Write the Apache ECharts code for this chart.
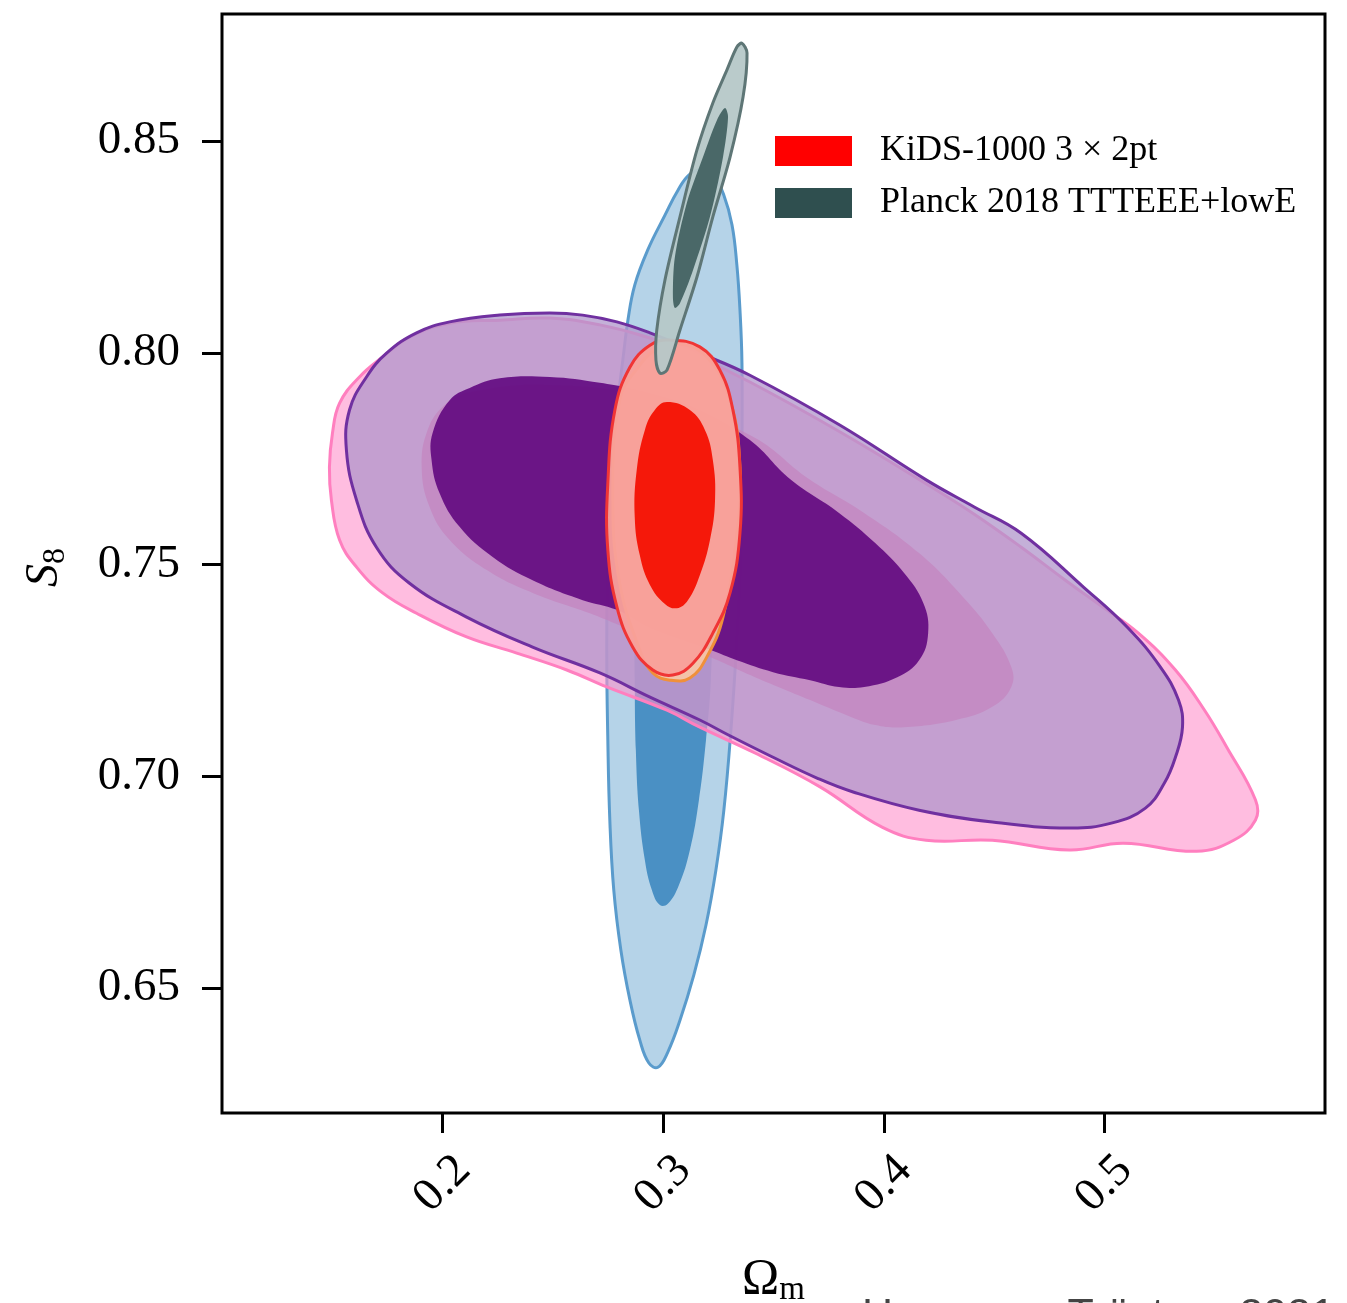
<!DOCTYPE html>
<html>
<head>
<meta charset="utf-8">
<script src="https://cdn.jsdelivr.net/npm/echarts@6/dist/echarts.min.js"></script>
<style>
html,body{margin:0;padding:0;background:#fff;}
#chart{width:1347px;height:1303px;}
</style>
</head>
<body>
<div id="chart"></div>
<script>
// ---- Tick values ----
const xTicks = [0.2, 0.3, 0.4, 0.5];
const yTicks = [0.65, 0.70, 0.75, 0.80, 0.85];

// ---- Contour outlines, [Omega_m, S8] ----
const blueOuter = [[0.3121,0.8422],[0.3180,0.8432],[0.3230,0.8417],[0.3275,0.8372],[0.3312,0.8302],[0.3334,0.8207],[0.3348,0.8101],[0.3357,0.7976],[0.3357,0.7770],[0.3353,0.7534],[0.3334,0.7322],[0.3307,0.7109],[0.3275,0.6920],[0.3239,0.6779],[0.3194,0.6649],[0.3139,0.6531],[0.3076,0.6424],[0.3021,0.6349],[0.2976,0.6313],[0.2935,0.6323],[0.2894,0.6377],[0.2849,0.6472],[0.2808,0.6590],[0.2776,0.6731],[0.2758,0.6897],[0.2749,0.7086],[0.2744,0.7298],[0.2749,0.7534],[0.2767,0.7770],[0.2794,0.7888],[0.2817,0.7983],[0.2840,0.8077],[0.2871,0.8160],[0.2930,0.8243],[0.3008,0.8325],[0.3067,0.8384]];
const blueInner = [[0.3039,0.7907],[0.3144,0.7888],[0.3203,0.7818],[0.3225,0.7652],[0.3225,0.7416],[0.3216,0.7227],[0.3194,0.7086],[0.3162,0.6944],[0.3121,0.6826],[0.3071,0.6743],[0.3021,0.6699],[0.2985,0.6696],[0.2949,0.6731],[0.2917,0.6802],[0.2890,0.6920],[0.2876,0.7062],[0.2871,0.7227],[0.2871,0.7416],[0.2885,0.7652],[0.2917,0.7818],[0.2967,0.7888]];
const pinkOuter = [[0.1533,0.7881],[0.1623,0.7943],[0.1728,0.7990],[0.1850,0.8037],[0.2032,0.8070],[0.2259,0.8077],[0.2486,0.8082],[0.2713,0.8066],[0.2940,0.8035],[0.3166,0.7988],[0.3393,0.7931],[0.3802,0.7813],[0.4210,0.7685],[0.4410,0.7619],[0.4623,0.7541],[0.4823,0.7463],[0.4991,0.7400],[0.5154,0.7338],[0.5322,0.7251],[0.5454,0.7156],[0.5554,0.7069],[0.5685,0.6944],[0.5685,0.6897],[0.5586,0.6849],[0.5418,0.6823],[0.5086,0.6842],[0.4841,0.6826],[0.4492,0.6849],[0.4192,0.6849],[0.3992,0.6880],[0.3711,0.6975],[0.3416,0.7055],[0.3166,0.7116],[0.3017,0.7156],[0.2744,0.7211],[0.2563,0.7251],[0.2336,0.7291],[0.2109,0.7329],[0.1882,0.7385],[0.1728,0.7433],[0.1610,0.7494],[0.1533,0.7558],[0.1496,0.7652],[0.1487,0.7730],[0.1501,0.7811]];
const pinkInner = [[0.2123,0.7907],[0.2486,0.7924],[0.2940,0.7893],[0.3393,0.7806],[0.3666,0.7700],[0.3911,0.7622],[0.4160,0.7527],[0.4360,0.7423],[0.4492,0.7338],[0.4578,0.7258],[0.4578,0.7211],[0.4492,0.7164],[0.4328,0.7133],[0.4092,0.7116],[0.3961,0.7121],[0.3829,0.7145],[0.3666,0.7180],[0.3416,0.7234],[0.3166,0.7291],[0.2894,0.7338],[0.2667,0.7385],[0.2408,0.7433],[0.2200,0.7487],[0.2032,0.7558],[0.1941,0.7636],[0.1905,0.7730],[0.1932,0.7818],[0.2009,0.7877]];
const purpleOuter = [[0.1564,0.7770],[0.1578,0.7865],[0.1655,0.7943],[0.1746,0.7999],[0.1882,0.8047],[0.2032,0.8073],[0.2259,0.8089],[0.2486,0.8094],[0.2635,0.8089],[0.2790,0.8073],[0.2940,0.8047],[0.3166,0.7999],[0.3393,0.7947],[0.3802,0.7829],[0.4192,0.7700],[0.4410,0.7636],[0.4623,0.7574],[0.4905,0.7447],[0.5104,0.7352],[0.5254,0.7258],[0.5336,0.7180],[0.5354,0.7116],[0.5322,0.7045],[0.5272,0.6984],[0.5186,0.6925],[0.5036,0.6890],[0.4841,0.6878],[0.4492,0.6892],[0.4160,0.6920],[0.3861,0.6963],[0.3697,0.6996],[0.3498,0.7045],[0.3298,0.7097],[0.3166,0.7133],[0.2940,0.7187],[0.2713,0.7244],[0.2408,0.7305],[0.2109,0.7376],[0.1850,0.7456],[0.1700,0.7541],[0.1610,0.7652]];
const purpleInner = [[0.2123,0.7917],[0.2259,0.7940],[0.2486,0.7943],[0.2713,0.7929],[0.2940,0.7905],[0.3166,0.7865],[0.3393,0.7794],[0.3579,0.7700],[0.3797,0.7622],[0.3961,0.7551],[0.4092,0.7480],[0.4179,0.7409],[0.4201,0.7338],[0.4160,0.7274],[0.4061,0.7234],[0.3911,0.7211],[0.3797,0.7211],[0.3666,0.7227],[0.3498,0.7246],[0.3334,0.7274],[0.3216,0.7298],[0.2940,0.7350],[0.2790,0.7393],[0.2635,0.7416],[0.2408,0.7463],[0.2227,0.7518],[0.2077,0.7589],[0.1986,0.7669],[0.1950,0.7747],[0.1955,0.7811],[0.2032,0.7888]];
const orangeOuter = [[0.3062,0.8023],[0.3198,0.7990],[0.3303,0.7888],[0.3348,0.7730],[0.3334,0.7574],[0.3271,0.7376],[0.3198,0.7282],[0.3121,0.7232],[0.3030,0.7227],[0.2953,0.7244],[0.2894,0.7298],[0.2803,0.7456],[0.2772,0.7652],[0.2803,0.7888],[0.2894,0.7971],[0.2985,0.8014]];
const kidsOuter = [[0.3030,0.8030],[0.3166,0.8014],[0.3257,0.7959],[0.3316,0.7865],[0.3348,0.7730],[0.3348,0.7574],[0.3303,0.7433],[0.3225,0.7338],[0.3135,0.7267],[0.3044,0.7239],[0.2953,0.7251],[0.2862,0.7305],[0.2790,0.7400],[0.2749,0.7534],[0.2749,0.7692],[0.2781,0.7865],[0.2849,0.7966],[0.2940,0.8018]];
const kidsInner = [[0.3017,0.7884],[0.3121,0.7865],[0.3189,0.7818],[0.3225,0.7747],[0.3235,0.7652],[0.3212,0.7558],[0.3166,0.7475],[0.3112,0.7416],[0.3062,0.7397],[0.3008,0.7407],[0.2940,0.7452],[0.2894,0.7522],[0.2871,0.7612],[0.2880,0.7723],[0.2917,0.7818],[0.2962,0.7865]];
const planckOuter = [[0.3357,0.8731],[0.3380,0.8708],[0.3362,0.8604],[0.3303,0.8462],[0.3225,0.8321],[0.3153,0.8179],[0.3076,0.8054],[0.3017,0.7959],[0.2985,0.7952],[0.2967,0.7983],[0.2971,0.8054],[0.3008,0.8172],[0.3076,0.8321],[0.3153,0.8479],[0.3225,0.8590],[0.3289,0.8668],[0.3334,0.8722]];
const planckInner = [[0.3280,0.8578],[0.3294,0.8557],[0.3271,0.8462],[0.3212,0.8321],[0.3135,0.8195],[0.3076,0.8117],[0.3053,0.8106],[0.3044,0.8132],[0.3053,0.8226],[0.3107,0.8354],[0.3180,0.8462],[0.3244,0.8550]];

const SERIF = "'Liberation Serif', 'DejaVu Serif', serif";

function contour(name, pts, style, legendColor, smooth) {
  return {
    type: 'custom',
    name: name,
    coordinateSystem: 'cartesian2d',
    data: pts,
    encode: { x: 0, y: 1 },
    silent: true,
    animation: false,
    itemStyle: { color: legendColor || style.fill },
    renderItem: function (params, api) {
      if (params.dataIndex !== 0) return null;
      const p = pts.map(function (d) { return api.coord(d); });
      return {
        type: 'polygon',
        shape: { points: p, smooth: smooth == null ? 0.42 : smooth },
        style: Object.assign({ lineJoin: 'round' }, style)
      };
    }
  };
}

const chart = echarts.init(document.getElementById('chart'), null, { renderer: 'canvas' });
chart.setOption({
  animation: false,
  backgroundColor: '#ffffff',
  textStyle: { fontFamily: SERIF },
  grid: { left: 222, top: 14, right: 22, bottom: 190, containLabel: false, outerBoundsMode: 'none', show: true, borderColor: '#000', borderWidth: 3, backgroundColor: 'transparent' },
  legend: {
    orient: 'vertical', left: 775, top: 133, itemGap: 16, padding: 0,
    itemWidth: 77, itemHeight: 30, icon: 'rect', selectedMode: false,
    textStyle: { fontFamily: SERIF, fontSize: 36, color: '#000', padding: [0, 0, 0, 23] },
    data: ['KiDS-1000 3 × 2pt', 'Planck 2018 TTTEEE+lowE']
  },
  xAxis: {
    type: 'value', min: 0.1, max: 0.6,
    axisLine: { show: false },
    splitLine: { show: false },
    axisTick: { show: true, inside: false, length: 20, lineStyle: { color: '#000', width: 3 }, customValues: xTicks },
    axisLabel: { customValues: xTicks, rotate: 45, margin: 71, align: 'center', verticalAlign: 'middle', fontFamily: SERIF, fontSize: 47, color: '#000', formatter: function (v) { return v.toFixed(1); } },
    name: '{o|Ω}{s|m}', nameLocation: 'middle', nameGap: 142,
    nameTextStyle: { rich: {
      o: { fontFamily: SERIF, fontSize: 50, lineHeight: 52, verticalAlign: 'top', color: '#000' },
      s: { fontFamily: SERIF, fontSize: 33, lineHeight: 33, verticalAlign: 'bottom', color: '#000' }
    }, lineHeight: 62 }
  },
  yAxis: {
    type: 'value', min: 0.6205, max: 0.88,
    axisLine: { show: false },
    splitLine: { show: false },
    axisTick: { show: true, inside: false, length: 20, lineStyle: { color: '#000', width: 3 }, customValues: yTicks },
    axisLabel: { customValues: yTicks, margin: 42, fontFamily: SERIF, fontSize: 47, color: '#000', formatter: function (v) { return v.toFixed(2); } },
    name: '{s|S}{b|8}', nameLocation: 'middle', nameGap: 150, nameRotate: 90,
    nameTextStyle: { rich: {
      s: { fontFamily: SERIF, fontStyle: 'italic', fontSize: 46, lineHeight: 50, verticalAlign: 'top', color: '#000' },
      b: { fontFamily: SERIF, fontSize: 32, lineHeight: 32, verticalAlign: 'bottom', color: '#000' }
    }, lineHeight: 60, padding: [0, 8, 0, 0] }
  },
  graphic: [{
    type: 'text', left: 862, top: 1295, silent: true,
    style: { text: 'Heymans, Tröster+ 2021', fontFamily: "'Liberation Sans', Arial, sans-serif", fontSize: 43, fill: '#444444' }
  }],
  series: [
    contour('blue95', blueOuter, { fill: '#b5d3e8', stroke: '#5a9bcc', lineWidth: 3 }),
    contour('blue68', blueInner, { fill: '#4a90c4', stroke: null }),
    contour('pink95', pinkOuter, { fill: 'rgba(255,145,203,0.6)', stroke: '#ff7fbf', lineWidth: 3 }),
    contour('pink68', pinkInner, { fill: 'rgba(255,64,142,0.6)', stroke: null }),
    contour('purple95', purpleOuter, { fill: 'rgba(176,150,203,0.75)', stroke: '#7030a0', lineWidth: 3 }),
    contour('purple68', purpleInner, { fill: 'rgba(98,8,128,0.9)', stroke: null }),
    contour('orange95', orangeOuter, { fill: 'rgba(250,200,165,0.9)', stroke: '#f0903a', lineWidth: 3 }),
    contour('KiDS-1000 3 × 2pt', kidsOuter, { fill: 'rgba(248,160,154,0.96)', stroke: '#f03535', lineWidth: 3 }, '#ff0000'),
    contour('kids68', kidsInner, { fill: '#f5180a', stroke: null }),
    contour('planck95', planckOuter, { fill: 'rgba(182,200,200,0.95)', stroke: '#5e7676', lineWidth: 3 }, '#b8c8c8', 0.3),
    contour('Planck 2018 TTTEEE+lowE', planckInner, { fill: '#4a6868', stroke: null }, '#2f4f4f', 0.3)
  ]
});
</script>
</body>
</html>
